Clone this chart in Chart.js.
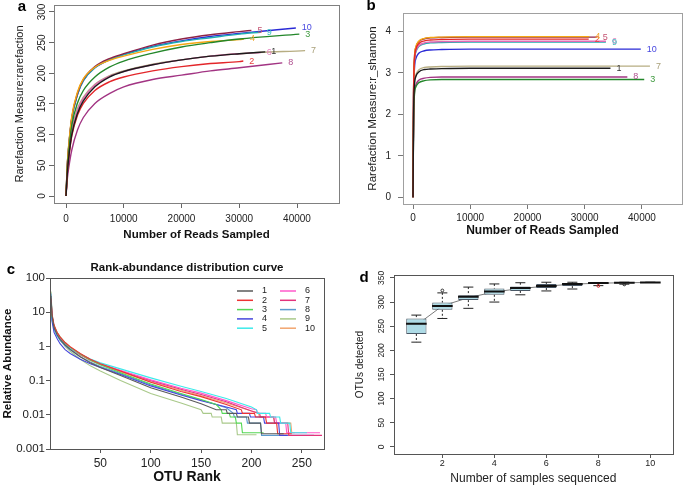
<!DOCTYPE html>
<html>
<head>
<meta charset="utf-8">
<script src="https://cdn.jsdelivr.net/npm/chart.js@4/dist/chart.umd.min.js"></script>
<style>
  html, body { margin: 0; padding: 0; background: #fff; width: 685px; height: 486px; overflow: hidden; }
  canvas { position: absolute; }
</style>
</head>
<body>
<canvas id="chartA" width="340" height="243" style="left:0;top:0"></canvas>
<canvas id="chartB" width="345" height="243" style="left:340px;top:0"></canvas>
<canvas id="chartC" width="340" height="241" style="left:0;top:245px"></canvas>
<canvas id="chartD" width="345" height="241" style="left:340px;top:245px"></canvas>
<script>
// ---- shared sample info ----
const sampleNames = ['1', '2', '3', '4', '5', '6', '7', '8', '9', '10'];
const curveColors = ['#1c1c1c', '#e3262a', '#23872a', '#f5a712', '#8e2246', '#e268b4', '#b7ad82', '#a23483', '#21adb0', '#2a2ad6'];
const curveLabelColors = ['#333333', '#e8403f', '#3f9a3f', '#f0a830', '#c45372', '#e586c0', '#a9a07a', '#b0508f', '#3cc0c4', '#4848e0'];
const readsPerSample = [34500, 30700, 40400, 30800, 32100, 33700, 41400, 37450, 33700, 39800];
const readsTicks = [0, 10000, 20000, 30000, 40000];

// ---- panel a: observed OTU rarefaction ----
const readsGridA = [0, 250, 500, 1000, 2000, 3000, 5000, 7500, 10000, 15000, 20000, 25000, 30000];
const richnessS1 = [0, 40, 65, 100, 135, 155, 178, 194, 203, 214, 222, 228, 232, 235];
const richnessS2 = [0, 40, 64, 98, 132, 151, 172, 186, 194, 204, 211, 216, 219, 220];
const richnessS3 = [0, 48, 75, 115, 152, 172, 194, 210, 220, 233, 243, 250, 256, 264];
const richnessS4 = [0, 56, 86, 130, 170, 191, 210, 221, 228, 239, 247, 252, 255, 256];
const richnessS5 = [0, 55, 85, 128, 168, 190, 211, 224, 232, 246, 256, 263, 268, 270];
const richnessS6 = [0, 43, 68, 104, 140, 159, 181, 195, 203, 214, 222, 228, 232, 234];
const richnessS7 = [0, 45, 70, 107, 143, 161, 182, 196, 204, 215, 222, 228, 232, 237];
const richnessS8 = [0, 30, 48, 75, 108, 128, 151, 167, 178, 190, 197, 204, 209, 217];
const richnessS9 = [0, 53, 83, 126, 166, 188, 209, 222, 230, 243, 252, 258, 264, 267];
const richnessS10 = [0, 53, 83, 126, 166, 188, 209, 222, 231, 244, 253, 260, 265, 274];
const richnessTicks = [0, 50, 100, 150, 200, 250, 300];

// ---- panel b: shannon rarefaction ----
const readsGridB = [0, 100, 250, 500, 1000, 2000, 3000, 5000, 10000, 20000];
const shannonS1 = [0, 2.0, 2.7, 2.91, 3.02, 3.08, 3.09, 3.10, 3.11, 3.11, 3.11];
const shannonS2 = [0, 2.5, 3.3, 3.56, 3.70, 3.77, 3.79, 3.80, 3.81, 3.81, 3.81];
const shannonS3 = [0, 1.85, 2.47, 2.66, 2.76, 2.81, 2.83, 2.84, 2.84, 2.84, 2.84];
const shannonS4 = [0, 2.5, 3.36, 3.62, 3.76, 3.83, 3.85, 3.86, 3.87, 3.87, 3.87];
const shannonS5 = [0, 2.5, 3.35, 3.61, 3.75, 3.82, 3.84, 3.85, 3.86, 3.86, 3.86];
const shannonS6 = [0, 2.45, 3.27, 3.52, 3.65, 3.72, 3.74, 3.75, 3.76, 3.76, 3.76];
const shannonS7 = [0, 2.05, 2.75, 2.95, 3.07, 3.13, 3.14, 3.15, 3.16, 3.16, 3.16];
const shannonS8 = [0, 1.9, 2.52, 2.71, 2.82, 2.87, 2.89, 2.90, 2.90, 2.90, 2.90];
const shannonS9 = [0, 2.4, 3.25, 3.5, 3.63, 3.70, 3.72, 3.73, 3.74, 3.74, 3.74];
const shannonS10 = [0, 2.3, 3.1, 3.34, 3.47, 3.53, 3.55, 3.56, 3.57, 3.57, 3.57];
const shannonTicks = [0, 1, 2, 3, 4];

// ---- panel c: rank-abundance (tails step down by single reads) ----
const abundanceColors = ['#5a5a5a', '#ee3333', '#55d855', '#4646dc', '#3ceaea', '#ff5acb', '#e3337c', '#5b9bcf', '#a9c98a', '#f2a56e'];
const rankS1 = [1, 2, 4, 7, 10, 15, 20, 30, 40, 50, 70, 100, 130, 150, 165, 175, 176, 185, 186, 197, 198, 209, 210, 232];
const abundS1 = [30, 8, 3.5, 2.2, 1.6, 1.1, 0.82, 0.5, 0.33, 0.24, 0.14, 0.062, 0.033, 0.021, 0.014, 0.014, 0.011, 0.011, 0.0086, 0.0086, 0.0057, 0.0057, 0.0028, 0.0028];
const rankS2 = [1, 2, 4, 7, 10, 15, 20, 30, 40, 50, 70, 100, 130, 150, 175, 190, 191, 203, 204, 214, 215, 225, 226, 240];
const abundS2 = [25, 9, 4.2, 2.6, 1.9, 1.3, 0.98, 0.62, 0.42, 0.31, 0.19, 0.09, 0.048, 0.034, 0.02, 0.014, 0.011, 0.011, 0.0086, 0.0086, 0.0057, 0.0057, 0.0028, 0.0028];
const rankS3 = [1, 2, 4, 7, 10, 15, 20, 30, 40, 50, 70, 100, 130, 150, 165, 170, 171, 178, 179, 184, 185, 190, 191, 212];
const abundS3 = [15, 7.5, 4.0, 2.6, 1.9, 1.3, 0.95, 0.6, 0.4, 0.29, 0.17, 0.08, 0.042, 0.028, 0.02, 0.014, 0.011, 0.011, 0.0086, 0.0086, 0.0057, 0.0057, 0.003, 0.003];
const rankS4 = [1, 2, 4, 7, 10, 15, 20, 30, 40, 50, 70, 100, 130, 150, 175, 185, 186, 198, 199, 212, 213, 227, 228, 236];
const abundS4 = [20, 5.5, 2.6, 1.7, 1.2, 0.8, 0.62, 0.42, 0.31, 0.24, 0.15, 0.07, 0.038, 0.026, 0.017, 0.014, 0.011, 0.011, 0.0086, 0.0086, 0.0057, 0.0057, 0.0025, 0.0025];
const rankS5 = [1, 2, 4, 7, 10, 15, 20, 30, 40, 50, 70, 100, 130, 150, 175, 200, 205, 206, 218, 219, 228, 229, 238, 239, 255];
const abundS5 = [14, 6, 3.2, 2.1, 1.6, 1.15, 0.9, 0.6, 0.43, 0.33, 0.22, 0.12, 0.068, 0.048, 0.03, 0.017, 0.014, 0.011, 0.011, 0.0086, 0.0086, 0.0057, 0.0057, 0.003, 0.003];
const rankS6 = [1, 2, 4, 7, 10, 15, 20, 30, 40, 50, 70, 100, 130, 150, 175, 200, 205, 206, 214, 215, 224, 225, 234, 235, 268];
const abundS6 = [18, 7, 3.5, 2.3, 1.7, 1.2, 0.92, 0.6, 0.42, 0.31, 0.2, 0.105, 0.06, 0.043, 0.026, 0.015, 0.014, 0.011, 0.011, 0.0086, 0.0086, 0.0057, 0.0057, 0.003, 0.003];
const rankS7 = [1, 2, 4, 7, 10, 15, 20, 30, 40, 50, 70, 100, 130, 150, 175, 200, 208, 209, 222, 223, 236, 237, 270];
const abundS7 = [22, 8, 3.8, 2.4, 1.8, 1.2, 0.9, 0.58, 0.4, 0.3, 0.19, 0.1, 0.056, 0.039, 0.024, 0.013, 0.011, 0.0086, 0.0086, 0.0057, 0.0057, 0.0025, 0.0025];
const rankS8 = [1, 2, 4, 7, 10, 15, 20, 30, 40, 50, 70, 100, 130, 150, 175, 182, 183, 195, 196, 209, 210, 262];
const abundS8 = [35, 8, 3.4, 2.1, 1.5, 1.05, 0.8, 0.5, 0.35, 0.26, 0.16, 0.075, 0.04, 0.027, 0.016, 0.011, 0.0086, 0.0086, 0.0057, 0.0057, 0.0025, 0.0025];
const rankS9 = [1, 2, 4, 7, 10, 15, 20, 30, 40, 50, 70, 100, 130, 150, 152, 160, 161, 170, 171, 185, 186, 205];
const abundS9 = [40, 9, 3.6, 2.2, 1.55, 1.0, 0.72, 0.42, 0.27, 0.19, 0.1, 0.042, 0.022, 0.014, 0.011, 0.011, 0.0086, 0.0086, 0.0057, 0.0057, 0.0026, 0.0026];
const rankS10 = [1, 2, 4, 7, 10, 15, 20, 30, 40, 50, 70, 100, 130, 150, 175, 200, 207, 208, 222, 223, 239, 240, 243];
const abundS10 = [28, 8, 3.6, 2.3, 1.7, 1.15, 0.88, 0.56, 0.39, 0.29, 0.18, 0.092, 0.052, 0.036, 0.022, 0.013, 0.011, 0.0086, 0.0086, 0.0057, 0.0057, 0.003, 0.003];
const rankTicks = [50, 100, 150, 200, 250];
const abundanceTicks = [0.001, 0.01, 0.1, 1, 10, 100];

// ---- panel d: OTU accumulation boxplots ----
const samplesSequenced = [1, 2, 3, 4, 5, 6, 7, 8, 9, 10];
const otuMin = [217, 266, 287, 300, 315, 323, 327, 334, 337, 340.5];
const otuQ1 = [234, 284, 304, 315, 323, 329, 333, 338, 339, 340];
const otuMedian = [255, 292, 311, 322, 329, 333, 337.5, 339.5, 340, 340.5];
const otuQ3 = [266, 299, 314, 328, 332, 337.5, 339.5, 340.2, 340.5, 341];
const otuMax = [273, 319, 331, 337.5, 340, 341, 341, 340.5, 341, 341];
const otuMean = [252, 292, 309, 321, 328, 333, 337, 339, 340, 340.5];
const outlierX = [2, 8, 9];
const outlierY = [324, 333.5, 336.5];
const outlierColors = ['#333333', '#cc2222', '#222222'];
const otuTicks = [0, 50, 100, 150, 200, 250, 300, 350];
const sampleTicks = [2, 4, 6, 8, 10];

const richnessSeries = [richnessS1, richnessS2, richnessS3, richnessS4, richnessS5, richnessS6, richnessS7, richnessS8, richnessS9, richnessS10];
const shannonSeries = [shannonS1, shannonS2, shannonS3, shannonS4, shannonS5, shannonS6, shannonS7, shannonS8, shannonS9, shannonS10];
const rankSeries = [rankS1, rankS2, rankS3, rankS4, rankS5, rankS6, rankS7, rankS8, rankS9, rankS10];
const abundSeries = [abundS1, abundS2, abundS3, abundS4, abundS5, abundS6, abundS7, abundS8, abundS9, abundS10];

// ---- defaults & helpers ----
const FONT = "'Liberation Sans', Arial, Helvetica, sans-serif";
Chart.defaults.font.family = FONT;
Chart.defaults.color = '#222';
Chart.defaults.animation = false;
Chart.defaults.plugins.legend.display = false;
Chart.defaults.plugins.tooltip.enabled = false;

const fixedTicks = values => scale => { scale.ticks = values.map(v => ({ value: v })); };
const plainLabel = v => String(v);
const tickMarks = (len, color) => ({ display: true, drawOnChartArea: false, drawTicks: true, tickLength: len, color });

const frameBox = {
  id: 'frameBox',
  afterDraw(chart, args, opts) {
    const { left, top, width, height } = chart.chartArea;
    const ctx = chart.ctx;
    ctx.save();
    ctx.strokeStyle = opts.color || '#666';
    ctx.lineWidth = 1;
    ctx.strokeRect(Math.round(left) + 0.5, Math.round(top) + 0.5, Math.round(width), Math.round(height));
    ctx.restore();
  }
};

const panelLetter = {
  id: 'panelLetter',
  afterDraw(chart, args, opts) {
    const ctx = chart.ctx;
    ctx.save();
    ctx.font = `bold ${opts.size}px ${FONT}`;
    ctx.fillStyle = '#000';
    ctx.textAlign = 'center';
    ctx.textBaseline = 'middle';
    ctx.fillText(opts.text, opts.x, opts.y);
    ctx.restore();
  }
};

// R draws y tick labels parallel to the axis
const rotatedYTicks = {
  id: 'rotatedYTicks',
  afterDraw(chart, args, opts) {
    const scale = chart.scales.y, ctx = chart.ctx;
    ctx.save();
    ctx.font = `${opts.size}px ${FONT}`;
    ctx.fillStyle = opts.color;
    ctx.textAlign = 'center';
    ctx.textBaseline = 'middle';
    scale.ticks.forEach(t => {
      ctx.save();
      ctx.translate(opts.x, scale.getPixelForValue(t.value));
      ctx.rotate(-Math.PI / 2);
      ctx.fillText(String(t.value), 0, 0);
      ctx.restore();
    });
    ctx.restore();
  }
};

// sample number printed at the end of each curve
const endLabels = {
  id: 'endLabels',
  afterDatasetsDraw(chart, args, opts) {
    const ctx = chart.ctx;
    ctx.save();
    ctx.font = `${opts.size}px ${FONT}`;
    ctx.textAlign = 'left';
    ctx.textBaseline = 'middle';
    chart.data.datasets.forEach((ds, i) => {
      const pts = chart.getDatasetMeta(i).data;
      const last = pts[pts.length - 1];
      ctx.fillStyle = opts.colors[i];
      ctx.fillText(ds.label, last.x + opts.dx, last.y);
    });
    ctx.restore();
  }
};

// two-column legend inside the plot (panel c)
const sampleLegend = {
  id: 'sampleLegend',
  afterDraw(chart, args, opts) {
    const ctx = chart.ctx;
    ctx.save();
    ctx.font = `${opts.size}px ${FONT}`;
    ctx.textAlign = 'left';
    ctx.textBaseline = 'middle';
    chart.data.datasets.forEach((ds, i) => {
      const col = Math.floor(i / opts.rows), row = i % opts.rows;
      const x = opts.x + col * opts.colGap, y = opts.y + row * opts.rowGap;
      ctx.strokeStyle = ds.borderColor;
      ctx.lineWidth = 1.5;
      ctx.beginPath();
      ctx.moveTo(x, y);
      ctx.lineTo(x + opts.lineLen, y);
      ctx.stroke();
      ctx.fillStyle = '#222';
      ctx.fillText(ds.label, x + opts.lineLen + opts.textGap, y);
    });
    ctx.restore();
  }
};

// ---- a ----
new Chart(document.getElementById('chartA'), {
  type: 'line',
  data: {
    datasets: richnessSeries.map((ys, i) => ({
      label: sampleNames[i],
      data: [...readsGridA, readsPerSample[i]].map((x, j) => ({ x, y: ys[j] })),
      borderColor: curveColors[i],
      borderWidth: 1.4,
      pointRadius: 0,
      cubicInterpolationMode: 'monotone',
    })),
  },
  options: {
    responsive: false,
    layout: { padding: { top: 5, right: 1, left: 0, bottom: 0 } },
    scales: {
      x: {
        type: 'linear', min: -2080, max: 47270,
        afterBuildTicks: fixedTicks(readsTicks),
        afterFit: s => { s.height = 40; },
        grid: tickMarks(5, '#666'),
        border: { display: false },
        ticks: { callback: plainLabel, font: { size: 10 }, padding: 5, maxRotation: 0, color: '#222' },
        title: { display: true, text: 'Number of Reads Sampled', font: { size: 11.5, weight: 'bold' }, padding: { top: 0, bottom: 1 }, color: '#111' },
      },
      y: {
        type: 'linear', min: -11.4, max: 311.4,
        afterBuildTicks: fixedTicks(richnessTicks),
        afterFit: s => { s.width = 54; },
        grid: tickMarks(5, '#666'),
        border: { display: false },
        ticks: { display: false },
        title: { display: true, text: 'Rarefaction Measure:rarefaction', font: { size: 11 }, padding: { top: 13.4, bottom: 13.4 }, color: '#222' },
      },
    },
    plugins: {
      frameBox: { color: '#808080' },
      rotatedYTicks: { x: 42, size: 10, color: '#222' },
      endLabels: { dx: 6, size: 9, colors: curveLabelColors },
      panelLetter: { text: 'a', x: 22, y: 7, size: 15 },
    },
  },
  plugins: [frameBox, rotatedYTicks, endLabels, panelLetter],
});

// ---- b ----
new Chart(document.getElementById('chartB'), {
  type: 'line',
  data: {
    datasets: shannonSeries.map((ys, i) => ({
      label: sampleNames[i],
      data: [...readsGridB, readsPerSample[i]].map((x, j) => ({ x, y: ys[j] })),
      borderColor: curveColors[i],
      borderWidth: 1.4,
      pointRadius: 0,
      cubicInterpolationMode: 'monotone',
    })),
  },
  options: {
    responsive: false,
    layout: { padding: { top: 6, right: 3, left: 0, bottom: 0 } },
    scales: {
      x: {
        type: 'linear', min: -1750, max: 47000,
        afterBuildTicks: fixedTicks(readsTicks),
        afterFit: s => { s.height = 39; },
        grid: tickMarks(5, '#777'),
        border: { display: false },
        ticks: { callback: plainLabel, font: { size: 10 }, padding: 3, maxRotation: 0, color: '#222' },
        title: { display: true, text: 'Number of Reads Sampled', font: { size: 12, weight: 'bold' }, padding: { top: 0, bottom: 4.8 }, color: '#111' },
      },
      y: {
        type: 'linear', min: -0.16, max: 4.44,
        afterBuildTicks: fixedTicks(shannonTicks),
        afterFit: s => { s.width = 63; },
        grid: tickMarks(5, '#777'),
        border: { display: false },
        ticks: { callback: plainLabel, font: { size: 10 }, padding: 7, color: '#222' },
        title: { display: true, text: 'Rarefaction Measure:r_shannon', font: { size: 11.5 }, padding: { top: 26.4, bottom: 26.4 }, color: '#222' },
      },
    },
    plugins: {
      frameBox: { color: '#a0a0a0' },
      endLabels: { dx: 6, size: 9, colors: curveLabelColors },
      panelLetter: { text: 'b', x: 31, y: 6, size: 15 },
    },
  },
  plugins: [frameBox, endLabels, panelLetter],
});

// ---- c ----
new Chart(document.getElementById('chartC'), {
  type: 'line',
  data: {
    datasets: abundSeries.map((ys, i) => ({
      label: sampleNames[i],
      data: rankSeries[i].map((r, j) => ({ x: r, y: ys[j] })),
      borderColor: abundanceColors[i],
      borderWidth: 1.1,
      pointRadius: 0,
      tension: 0,
    })),
  },
  options: {
    responsive: false,
    layout: { padding: { top: 0, right: 16, left: 0, bottom: 0 } },
    scales: {
      x: {
        type: 'linear', min: 0, max: 272,
        afterBuildTicks: fixedTicks(rankTicks),
        afterFit: s => { s.height = 37; },
        grid: tickMarks(4, '#555'),
        border: { display: false },
        ticks: { callback: plainLabel, font: { size: 12 }, padding: 3, maxRotation: 0, color: '#222' },
        title: { display: true, text: 'OTU Rank', font: { size: 14, weight: 'bold' }, padding: { top: 0, bottom: 0 }, color: '#111' },
      },
      y: {
        type: 'logarithmic', min: 0.001, max: 100,
        afterBuildTicks: fixedTicks(abundanceTicks),
        afterFit: s => { s.width = 50; },
        grid: tickMarks(4, '#555'),
        border: { display: false },
        ticks: { callback: plainLabel, font: { size: 11.5 }, padding: 1, color: '#222' },
        title: { display: true, text: 'Relative Abundance', font: { size: 11.5, weight: 'bold' }, padding: { top: 1, bottom: 1 }, color: '#111' },
      },
    },
    plugins: {
      title: { display: true, text: 'Rank-abundance distribution curve', fullSize: false, font: { size: 11.5, weight: 'bold' }, padding: { top: 16, bottom: 3.2 }, color: '#111' },
      frameBox: { color: '#555' },
      sampleLegend: { x: 237, y: 46, rows: 5, rowGap: 9.3, colGap: 43, lineLen: 16, textGap: 9, size: 9 },
      panelLetter: { text: 'c', x: 11, y: 25, size: 15 },
    },
  },
  plugins: [frameBox, sampleLegend, panelLetter],
});

// ---- d ----
const whiskerPoints = samplesSequenced.flatMap((x, i) => [
  { x, y: otuMax[i] }, { x, y: otuQ3[i] }, { x, y: null },
  { x, y: otuQ1[i] }, { x, y: otuMin[i] }, { x, y: null },
]);
const capPoints = samplesSequenced.flatMap((x, i) => [{ x, y: otuMax[i] }, { x, y: otuMin[i] }]);

new Chart(document.getElementById('chartD'), {
  type: 'bar',
  data: {
    datasets: [
      {
        type: 'line', label: 'mean',
        data: samplesSequenced.map((x, i) => ({ x, y: otuMean[i] })),
        borderColor: '#7a7a7a', borderWidth: 1, pointRadius: 0, order: 5,
      },
      {
        type: 'line', label: 'whiskers', data: whiskerPoints,
        borderColor: '#222', borderWidth: 1, borderDash: [2, 2], pointRadius: 0, spanGaps: false, order: 4,
      },
      {
        type: 'bar', label: 'boxes',
        data: samplesSequenced.map((x, i) => ({ x, y: [otuQ1[i], otuQ3[i]] })),
        backgroundColor: '#aedbe6', borderColor: '#4a5866', borderWidth: 1, borderSkipped: false,
        barPercentage: 0.78, categoryPercentage: 1, order: 3,
      },
      {
        type: 'line', label: 'caps', data: capPoints, showLine: false,
        pointStyle: 'line', pointRadius: 5, pointBorderWidth: 1, pointBorderColor: '#222', order: 2,
      },
      {
        type: 'line', label: 'median',
        data: samplesSequenced.map((x, i) => ({ x, y: otuMedian[i] })), showLine: false,
        pointStyle: 'line', pointRadius: 10.3, pointBorderWidth: 2, pointBorderColor: '#111', order: 1,
      },
      {
        type: 'line', label: 'outliers',
        data: outlierX.map((x, i) => ({ x, y: outlierY[i] })), showLine: false,
        pointStyle: 'circle', pointRadius: 1.4, pointBorderWidth: 1,
        pointBorderColor: outlierColors, pointBackgroundColor: 'rgba(0,0,0,0)', order: 0,
      },
    ],
  },
  options: {
    responsive: false,
    layout: { padding: { top: 30, right: 7, left: 0, bottom: 0 } },
    scales: {
      x: {
        type: 'linear', min: 0.14, max: 10.86, offset: false,
        afterBuildTicks: fixedTicks(sampleTicks),
        afterFit: s => { s.height = 32; },
        grid: Object.assign(tickMarks(4, '#555'), { offset: false }),
        border: { display: false },
        ticks: { callback: plainLabel, font: { size: 9 }, padding: 0.6, maxRotation: 0, color: '#222' },
        title: { display: true, text: 'Number of samples sequenced', font: { size: 12 }, padding: { top: 0, bottom: 0 }, color: '#222' },
      },
      y: {
        type: 'linear', min: -14.5, max: 356,
        afterBuildTicks: fixedTicks(otuTicks),
        afterFit: s => { s.width = 54; },
        grid: tickMarks(4, '#555'),
        border: { display: false },
        ticks: { display: false },
        title: { display: true, text: 'OTUs detected', font: { size: 10 }, padding: { top: 14, bottom: 14 }, color: '#222' },
      },
    },
    plugins: {
      frameBox: { color: '#555' },
      rotatedYTicks: { x: 41.7, size: 8.5, color: '#222' },
      panelLetter: { text: 'd', x: 24, y: 33, size: 15 },
    },
  },
  plugins: [frameBox, rotatedYTicks, panelLetter],
});
</script>
</body>
</html>
